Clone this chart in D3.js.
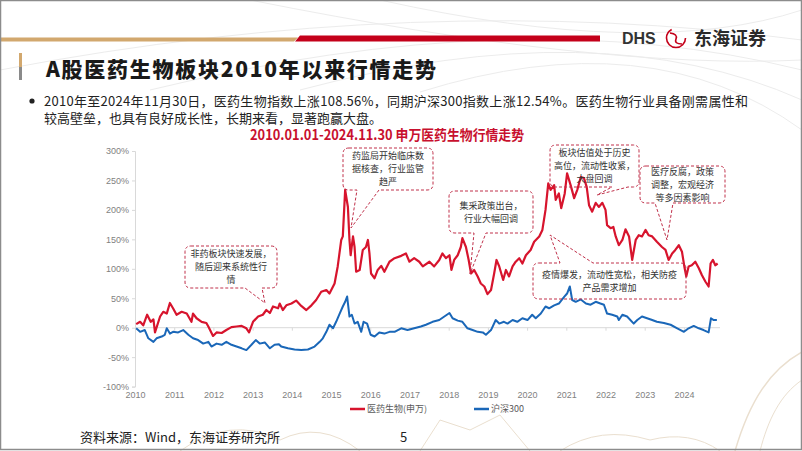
<!DOCTYPE html>
<html>
<head>
<meta charset="utf-8">
<script src="https://cdn.jsdelivr.net/npm/d3@7"></script>
<style>
html,body{margin:0;padding:0;background:#fff;}
svg{display:block;}
</style>
</head>
<body>
<div class="container"></div>
<script>
// ---- data (cumulative change since 2010, %) ----
const seriesNames = ['医药生物(申万)', '沪深300'];

const medYears = [
  2010.03,2010.13,2010.21,2010.31,2010.40,2010.47,2010.51,2010.64,2010.72,2010.81,
  2010.89,2010.97,2011.06,2011.19,2011.32,2011.44,2011.48,2011.57,2011.70,2011.82,
  2011.87,2011.99,2012.08,2012.21,2012.33,2012.46,2012.59,2012.72,2012.84,2012.91,
  2013.01,2013.14,2013.26,2013.35,2013.44,2013.52,2013.65,2013.69,2013.77,2013.86,
  2013.99,2014.11,2014.24,2014.37,2014.50,2014.62,2014.75,2014.88,2014.96,2015.09,
  2015.17,2015.26,2015.30,2015.36,2015.43,2015.47,2015.50,2015.56,2015.60,2015.64,
  2015.73,2015.81,2015.89,2015.94,2015.98,2016.02,2016.11,2016.19,2016.28,2016.36,
  2016.49,2016.62,2016.79,2016.91,2017.00,2017.12,2017.25,2017.34,2017.51,2017.63,
  2017.76,2017.84,2017.93,2018.02,2018.07,2018.14,2018.23,2018.31,2018.35,2018.44,
  2018.51,2018.57,2018.65,2018.74,2018.82,2018.91,2018.99,2019.08,2019.16,2019.22,
  2019.29,2019.39,2019.46,2019.54,2019.63,2019.71,2019.80,2019.88,2019.97,2020.09,
  2020.18,2020.31,2020.39,2020.47,2020.54,2020.60,2020.69,2020.73,2020.81,2020.87,
  2020.96,2021.02,2021.11,2021.20,2021.28,2021.37,2021.45,2021.52,2021.58,2021.66,
  2021.75,2021.83,2021.92,2022.00,2022.04,2022.13,2022.20,2022.26,2022.34,2022.43,
  2022.51,2022.60,2022.68,2022.77,2022.85,2022.93,2023.02,2023.10,2023.19,2023.31,
  2023.44,2023.53,2023.61,2023.70,2023.78,2023.87,2023.95,2024.01,2024.06,2024.12,
  2024.20,2024.29,2024.38,2024.46,2024.55,2024.63,2024.68,2024.74,2024.80,2024.86
];
const medVals = [
  6,10,4,22,10,14,-8,19,27,24,
  42,33,22,27,24,10,24,16,10,8,
  2,-14,-8,-9,-4,1,2,3,-1,-8,
  10,19,22,30,25,36,33,41,30,38,
  41,46,37,30,38,47,61,64,58,75,
  104,149,155,234,205,149,123,155,137,95,
  98,132,137,149,126,92,84,98,105,95,
  112,118,122,126,112,118,112,104,112,104,
  115,126,118,123,98,115,123,137,152,137,
  115,92,98,87,75,70,57,64,92,115,
  104,81,98,87,104,112,118,109,123,132,
  146,155,166,200,245,234,242,217,228,203,
  228,262,242,220,234,256,254,239,208,197,
  212,205,212,200,174,169,171,155,140,149,
  167,155,115,149,157,155,166,157,155,146,
  137,132,115,126,132,140,129,104,87,104,
  106,112,101,89,78,70,109,115,106,109
];

const hsYears = [
  2010.03,2010.13,2010.25,2010.34,2010.47,2010.55,2010.68,2010.76,2010.81,2010.89,
  2010.97,2011.10,2011.23,2011.36,2011.48,2011.61,2011.74,2011.87,2011.95,2012.08,
  2012.21,2012.33,2012.46,2012.59,2012.72,2012.84,2012.97,2013.08,2013.18,2013.31,
  2013.44,2013.56,2013.67,2013.73,2013.90,2014.07,2014.24,2014.41,2014.58,2014.71,
  2014.79,2014.88,2014.96,2015.05,2015.13,2015.22,2015.30,2015.36,2015.41,2015.47,
  2015.53,2015.60,2015.68,2015.77,2015.83,2015.92,2016.01,2016.11,2016.23,2016.36,
  2016.49,2016.62,2016.79,2016.95,2017.12,2017.29,2017.42,2017.59,2017.76,2017.89,
  2018.02,2018.10,2018.23,2018.35,2018.48,2018.61,2018.74,2018.87,2018.95,2019.08,
  2019.20,2019.29,2019.41,2019.50,2019.63,2019.75,2019.88,2020.01,2020.13,2020.22,
  2020.35,2020.47,2020.56,2020.69,2020.81,2020.94,2021.02,2021.09,2021.15,2021.24,
  2021.37,2021.50,2021.62,2021.75,2021.87,2021.96,2022.04,2022.17,2022.30,2022.34,
  2022.43,2022.55,2022.72,2022.81,2022.93,2023.06,2023.19,2023.31,2023.49,2023.66,
  2023.83,2024.00,2024.12,2024.25,2024.38,2024.50,2024.63,2024.69,2024.76,2024.84
];
const hsVals = [
  -1,-7,-4,-18,-24,-18,-15,-12,-1,-10,
  -7,-8,-4,-12,-18,-21,-27,-24,-32,-27,
  -29,-24,-29,-32,-35,-38,-29,-21,-27,-25,
  -35,-29,-28,-32,-35,-37,-38,-37,-32,-24,
  -18,-7,5,-1,10,24,36,44,53,19,
  22,7,10,-7,10,7,-12,-15,-8,-10,
  -7,-7,-1,-4,-1,2,5,10,13,19,
  25,16,12,10,-1,-4,-7,-8,-12,-4,
  13,7,10,7,13,10,16,13,22,16,
  24,36,33,38,41,52,58,70,47,44,
  48,41,39,44,41,39,24,22,19,13,
  22,19,7,13,19,16,13,10,8,5,
  -1,-7,-1,3,-1,-4,-8,16,13,13
];

const yTicks = [-100, -50, 0, 50, 100, 150, 200, 250, 300];
const yearTicks = [2010,2011,2012,2013,2014,2015,2016,2017,2018,2019,2020,2021,2022,2023,2024];

const notes = [
  {lines: ['非药板块快速发展，', '随后迎来系统性行', '情'], box: [185,246,277,288], side: 'bottom', base: [245,262], tip: [265,303]},
  {lines: ['药监局开始临床数', '据核查，行业监管', '趋严'], box: [343,148,433,190], side: 'bottom', base: [357,379], tip: [351,228]},
  {lines: ['集采政策出台，', '行业大幅回调'], box: [449,191,533,233], side: 'bottom', base: [474,486], tip: [470,274]},
  {lines: ['板块估值处于历史', '高位，流动性收紧，', '大盘回调'], box: [550,145,639,187], side: 'bottom', base: [612,628], tip: [597,195]},
  {lines: ['医疗反腐，政策', '调整，宏观经济', '等多因素影响'], box: [640,166,725,203], side: 'bottom', base: [655,673], tip: [667,240]},
  {lines: ['疫情爆发，流动性宽松，相关防疫', '产品需求增加'], box: [533,263,686,299], side: 'top', base: [560,593], tip: [550,235]}
];

const RED = '#d7142d', BLUE = '#1a67b8';
const CJK = '"Noto Sans CJK SC","Noto Sans",sans-serif';

const svg = d3.select('.container')
  .append('svg')
  .attr('width', 802)
  .attr('height', 451)
  .style('font-family', CJK);

// ---- background decoration ----
const deco = svg.append('g').attr('fill', 'none');
[[0,70,420,-10,802,40],[150,90,520,0,802,70],[300,90,600,10,802,100],[420,92,650,20,802,130],
 [250,0,600,70,802,60],[380,0,650,60,802,10]].forEach(function(c){
  deco.append('path')
    .attr('d', `M${c[0]},${c[1]} Q${c[2]},${c[3]} ${c[4]},${c[5]}`)
    .attr('stroke', '#ececec').attr('stroke-width', 1);
});
[['M802,352 C770,370 750,400 735,451', 1.5], ['M802,380 C780,395 768,420 760,451', 1],
 ['M180,451 Q230,415 280,440 Q320,420 360,451', 1], ['M420,451 L440,420 L470,430 L500,415 L530,451', 1],
 ['M560,451 Q600,425 650,440 Q690,430 720,451', 1]].forEach(function(p){
  deco.append('path').attr('d', p[0]).attr('stroke', '#eadfcf').attr('stroke-width', p[1]);
});

// ---- header ----
svg.append('path').attr('d', 'M0,37.5 H298 L294,41.5 H0 Z').attr('fill', '#d2a86e');
svg.append('path').attr('d', 'M300,35.5 H600 V41.5 H295 Z').attr('fill', '#c4001a');
svg.append('text').attr('x', 622).attr('y', 44).text('DHS')
  .attr('font-family', 'Liberation Sans, Arial, sans-serif')
  .attr('font-weight', 'bold').attr('font-size', 16).attr('fill', '#333');
svg.append('circle').attr('cx', 676).attr('cy', 38).attr('r', 9.5)
  .attr('fill', 'none').attr('stroke', '#c4001a').attr('stroke-width', 1.6)
  .attr('stroke-dasharray', '40 20');
svg.append('path').attr('d', 'M670,33 Q678,34 676,39 Q674,44 682,44')
  .attr('fill', 'none').attr('stroke', '#c4001a').attr('stroke-width', 1.6);
svg.append('text').attr('x', 694).attr('y', 45).text('东海证券')
  .attr('font-size', 18).attr('font-weight', 'bold').attr('fill', '#2a2a2a');

svg.append('rect').attr('x', 19).attr('y', 53).attr('width', 3).attr('height', 14).attr('fill', '#d2a86e');
svg.append('rect').attr('x', 19).attr('y', 67).attr('width', 3).attr('height', 13).attr('fill', '#8a8a8a');
svg.append('text').attr('x', 46).attr('y', 77).text('A股医药生物板块2010年以来行情走势')
  .attr('font-size', 21).attr('font-weight', 900).attr('fill', '#1a1a1a')
  .attr('textLength', 390).attr('lengthAdjust', 'spacing');

// ---- bullet text ----
svg.append('circle').attr('cx', 32).attr('cy', 101).attr('r', 2.6).attr('fill', '#222');
svg.append('text').attr('x', 44).attr('y', 105.5)
  .text('2010年至2024年11月30日，医药生物指数上涨108.56%，同期沪深300指数上涨12.54%。医药生物行业具备刚需属性和')
  .attr('font-size', 13).attr('fill', '#222')
  .attr('textLength', 704).attr('lengthAdjust', 'spacing');
svg.append('text').attr('x', 44).attr('y', 123)
  .text('较高壁垒，也具有良好成长性，长期来看，显著跑赢大盘。')
  .attr('font-size', 13).attr('fill', '#222');

svg.append('text').attr('x', 250).attr('y', 139.5)
  .text('2010.01.01-2024.11.30 申万医药生物行情走势')
  .attr('font-family', '"Liberation Sans Narrow","Noto Sans CJK SC",sans-serif')
  .attr('font-size', 14).attr('font-weight', 'bold').attr('fill', '#c8102e')
  .attr('textLength', 274).attr('lengthAdjust', 'spacingAndGlyphs');

// ---- chart ----
const x = d3.scaleLinear().domain([2010, 2024.92]).range([135, 720]);
const y = d3.scaleLinear().domain([-100, 300]).range([386.6, 151]);

const yAxis = svg.append('g')
  .attr('transform', 'translate(135,0)')
  .call(d3.axisLeft(y).tickValues(yTicks).tickFormat(d => d + '%').tickSize(3));
yAxis.selectAll('.domain, line').attr('stroke', '#d9d9d9');
yAxis.selectAll('text').attr('fill', '#7f7f7f').attr('font-size', 9)
  .attr('font-family', 'Liberation Sans, Arial, sans-serif');

const xAxis = svg.append('g')
  .attr('transform', `translate(0,${y(0)})`)
  .call(d3.axisBottom(x).tickValues(yearTicks).tickFormat(d3.format('d')).tickSize(3).tickSizeOuter(0));
xAxis.select('.domain').attr('stroke', '#d9d9d9').attr('d', `M135,0H720`);
xAxis.selectAll('line').attr('stroke', '#d9d9d9');
xAxis.selectAll('text').attr('y', y(-100) - y(0) + 5).attr('fill', '#7f7f7f').attr('font-size', 9)
  .attr('font-family', 'Liberation Sans, Arial, sans-serif');

const line = d3.line().x(d => x(d[0])).y(d => y(d[1]));
const medData = d3.zip(medYears, medVals);
const hsData = d3.zip(hsYears, hsVals);

svg.append('path').datum(hsData).attr('d', line)
  .attr('fill', 'none').attr('stroke', BLUE).attr('stroke-width', 2).attr('stroke-linejoin', 'round');
svg.append('path').datum(medData).attr('d', line)
  .attr('fill', 'none').attr('stroke', RED).attr('stroke-width', 2.2).attr('stroke-linejoin', 'round');

// ---- legend ----
const legend = svg.append('g').attr('font-size', 9).attr('fill', '#595959');
[[350, RED], [474, BLUE]].forEach(function(l, i){
  legend.append('line').attr('x1', l[0]).attr('x2', l[0] + 15).attr('y1', 409).attr('y2', 409)
    .attr('stroke', l[1]).attr('stroke-width', 2.5);
  legend.append('text').attr('x', l[0] + 17).attr('y', 412).text(seriesNames[i]);
});

// ---- callouts ----
function calloutPath(n){
  const [x0, y0, x1, y1] = n.box, r = 6;
  const [b1, b2] = n.base, [tx, ty] = n.tip;
  let top = `M${x0 + r},${y0} H${x1 - r}`;
  let bottom = `H${x0 + r}`;
  if(n.side === 'top') top = `M${x0 + r},${y0} H${b1} L${tx},${ty} L${b2},${y0} H${x1 - r}`;
  if(n.side === 'bottom') bottom = `H${b2} L${tx},${ty} L${b1},${y1} H${x0 + r}`;
  return top + ` Q${x1},${y0} ${x1},${y0 + r} V${y1 - r} Q${x1},${y1} ${x1 - r},${y1} ` + bottom +
    ` Q${x0},${y1} ${x0},${y1 - r} V${y0 + r} Q${x0},${y0} ${x0 + r},${y0} Z`;
}
notes.forEach(function(n){
  svg.append('path').attr('d', calloutPath(n))
    .attr('fill', 'none').attr('stroke', '#c0304a').attr('stroke-width', 1)
    .attr('stroke-dasharray', '3,2');
  const cx = (n.box[0] + n.box[2]) / 2, cy = (n.box[1] + n.box[3]) / 2;
  n.lines.forEach(function(t, i){
    svg.append('text').attr('x', cx).attr('y', cy + (i - (n.lines.length - 1) / 2) * 13)
      .attr('dy', '0.35em').attr('text-anchor', 'middle')
      .attr('font-size', 9).attr('fill', '#333').text(t);
  });
});

// ---- footer ----
svg.append('text').attr('x', 80).attr('y', 442).text('资料来源：Wind，东海证券研究所')
  .attr('font-size', 13).attr('fill', '#222');
svg.append('text').attr('x', 400).attr('y', 442).text('5')
  .attr('font-size', 13).attr('fill', '#222');

svg.append('rect').attr('x', 0.5).attr('y', 0.5).attr('width', 801).attr('height', 449)
  .attr('fill', 'none').attr('stroke', '#8c8c8c').attr('stroke-width', 1.5);
</script>
</body>
</html>
